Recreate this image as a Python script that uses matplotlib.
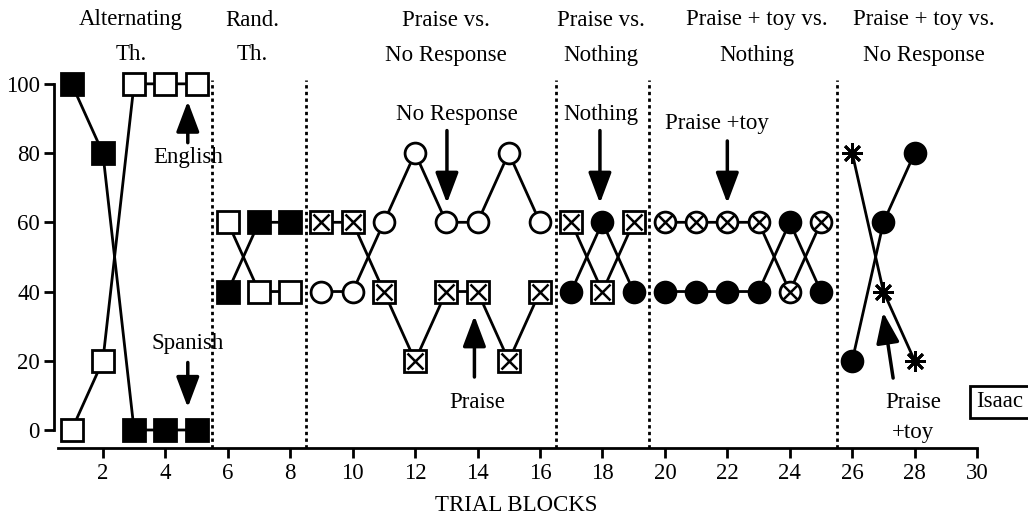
import matplotlib
matplotlib.use('Agg')
import matplotlib.pyplot as plt
from matplotlib.transforms import blended_transform_factory

plt.rcParams['font.family'] = ['Liberation Serif', 'DejaVu Serif']

# data
x1 = [1, 2, 3, 4, 5]
spanish1 = [100, 80, 0, 0, 0]
english1 = [0, 20, 100, 100, 100]

x2 = [6, 7, 8]
spanish2 = [40, 60, 60]
english2 = [60, 40, 40]

x3 = [9, 10, 11, 12, 13, 14, 15, 16]
noresp3 = [40, 40, 60, 80, 60, 60, 80, 60]
praise3 = [60, 60, 40, 20, 40, 40, 20, 40]

x4 = [17, 18, 19]
praise4 = [60, 40, 60]
nothing4 = [40, 60, 40]

x5 = [20, 21, 22, 23, 24, 25]
ptoy5 = [60, 60, 60, 60, 40, 60]
nothing5 = [40, 40, 40, 40, 60, 40]

x6 = [26, 27, 28]
ptoy6 = [80, 40, 20]
noresp6 = [20, 60, 80]

phase_breaks = [5.5, 8.5, 16.5, 19.5, 25.5]
phase_top = ['Alternating', 'Rand.', 'Praise vs.', 'Praise vs.', 'Praise + toy vs.', 'Praise + toy vs.']
phase_bot = ['Th.', 'Th.', 'No Response', 'Nothing', 'Nothing', 'No Response']
phase_pos = [2.9, 6.8, 13.0, 17.95, 22.95, 28.3]

xticks = list(range(2, 31, 2))
yticks = [0, 20, 40, 60, 80, 100]

fs = 16.5
fig = plt.figure(figsize=(10.28, 5.17), dpi=100)
ax = fig.add_axes([0.0545, 0.1335, 0.896, 0.7311])
ax.set_xlim(0.5, 30)
ax.set_ylim(-5.2, 104)

for s in ['top', 'right']:
    ax.spines[s].set_visible(False)
ax.spines['left'].set_bounds(0, 100)
ax.spines['left'].set_position(('data', 0.45))
ax.spines['bottom'].set_bounds(0.55, 30)
for s in ['left', 'bottom']:
    ax.spines[s].set_linewidth(2)
ax.set_xticks(xticks)
ax.set_yticks(yticks)
ax.tick_params(width=2, length=7, labelsize=fs, direction='out')

for b in phase_breaks:
    ax.plot([b, b], [-5.2, 101], color='k', lw=2, ls=(0, (1.2, 1.2)), zorder=1)

lw = 2
mw = 2
def series(x, y, marker, fill, ms=15.5, cross=None):
    ax.plot(x, y, color='k', lw=lw, marker=marker, ms=ms, mfc=fill, mec='k',
            mew=mw, clip_on=False, zorder=3)
    if cross:
        ax.plot(x, y, ls='none', marker='x', ms=cross, mew=1.8, color='k',
                clip_on=False, zorder=4)

series(x1, spanish1, 's', 'k')
series(x1, english1, 's', 'w')
series(x2, english2, 's', 'w')
series(x2, spanish2, 's', 'k')
series(x3, noresp3, 'o', 'w', ms=15)
series(x3, praise3, 's', 'w', cross=11)
series(x4, praise4, 's', 'w', cross=11)
series(x4, nothing4, 'o', 'k', ms=15)
series(x5, ptoy5, 'o', 'w', ms=15, cross=9.5)
series(x5, nothing5, 'o', 'k', ms=15)
series(x6, ptoy6, (8, 2, 0), 'k', ms=15)
series(x6, noresp6, 'o', 'k', ms=15)

arrow = dict(arrowstyle='-|>,head_length=0.85,head_width=0.32', color='k', lw=2.5,
             mutation_scale=22, shrinkA=0, shrinkB=0)
ax.annotate('', xy=(4.72, 95), xytext=(4.72, 83), arrowprops=arrow)
ax.text(4.72, 78.6, 'English', fontsize=fs, ha='center', va='center')
ax.text(4.72, 25, 'Spanish', fontsize=fs, ha='center', va='center')
ax.annotate('', xy=(4.72, 6.5), xytext=(4.72, 19.5), arrowprops=arrow)

ax.text(13.34, 91, 'No Response', fontsize=fs, ha='center', va='center')
ax.annotate('', xy=(13.02, 65.5), xytext=(13.02, 86.5), arrowprops=arrow)
ax.annotate('', xy=(13.9, 33), xytext=(13.9, 15.3), arrowprops=arrow)
ax.text(14.0, 8, 'Praise', fontsize=fs, ha='center', va='center')

ax.text(17.96, 91, 'Nothing', fontsize=fs, ha='center', va='center')
ax.annotate('', xy=(17.92, 65.5), xytext=(17.92, 86.5), arrowprops=arrow)
ax.text(21.67, 88.4, 'Praise +toy', fontsize=fs, ha='center', va='center')
ax.annotate('', xy=(22.0, 65.5), xytext=(22.0, 83.5), arrowprops=arrow)

ax.annotate('', xy=(26.99, 34), xytext=(27.31, 15), arrowprops=arrow)
ax.text(27.95, 3.6, 'Praise\n+toy', fontsize=fs, ha='center', va='center',
        linespacing=1.6)
ax.text(30.72, 8.1, 'Isaac', fontsize=fs, ha='center', va='center', clip_on=False,
        bbox=dict(boxstyle='square,pad=0.25', fc='w', ec='k', lw=2))

tr = blended_transform_factory(ax.transData, fig.transFigure)
for xp, t, b in zip(phase_pos, phase_top, phase_bot):
    ax.text(xp, 1 - 20 / 517, t, transform=tr, fontsize=fs, ha='center', va='center')
    ax.text(xp, 1 - 55 / 517, b, transform=tr, fontsize=fs, ha='center', va='center')

ax.set_xlabel('TRIAL BLOCKS', fontsize=fs, labelpad=8)

fig.savefig('out.png', dpi=100)
